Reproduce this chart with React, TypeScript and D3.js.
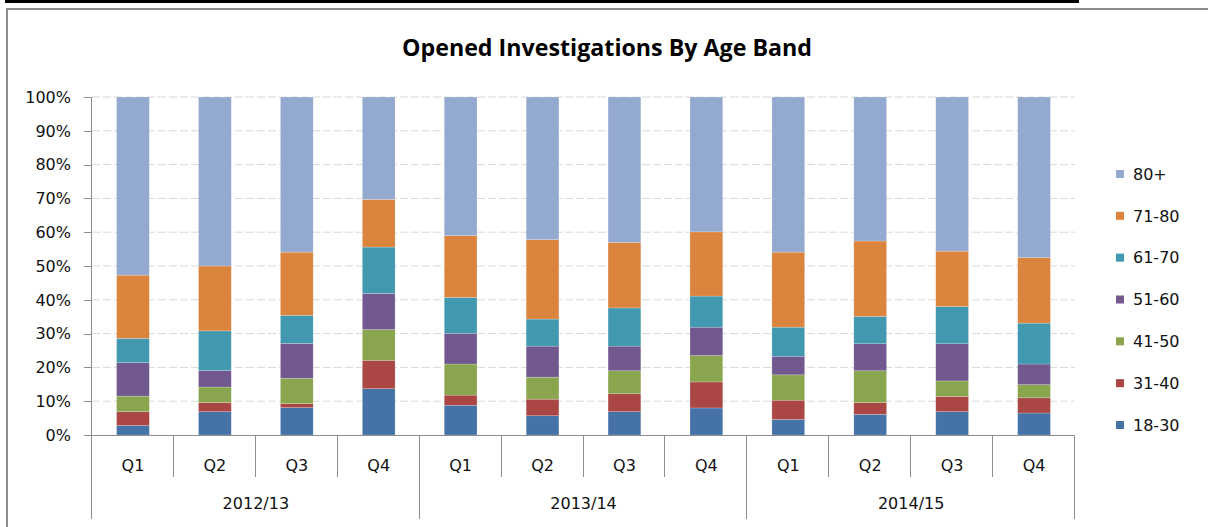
import React, { useRef, useEffect } from 'react';
import * as d3 from 'd3';

const quarters = ['Q1', 'Q2', 'Q3', 'Q4', 'Q1', 'Q2', 'Q3', 'Q4', 'Q1', 'Q2', 'Q3', 'Q4'];
const years = ['2012/13', '2013/14', '2014/15'];
const bands = ['18-30', '31-40', '41-50', '51-60', '61-70', '71-80', '80+'];

// share of opened investigations per age band (%)
const band18to30 = [2.8, 6.9, 8.1, 13.7, 8.8, 5.7, 6.9, 8.0, 4.6, 6.1, 6.9, 6.5];
const band31to40 = [4.1, 2.7, 1.2, 8.4, 3.0, 4.9, 5.3, 7.7, 5.7, 3.5, 4.5, 4.5];
const band41to50 = [4.6, 4.6, 7.5, 9.1, 9.2, 6.5, 6.8, 7.8, 7.5, 9.4, 4.6, 3.9];
const band51to60 = [9.9, 4.9, 10.3, 10.7, 9.1, 9.2, 7.3, 8.4, 5.5, 8.0, 11.0, 6.1];
const band61to70 = [7.2, 11.7, 8.3, 13.7, 10.6, 8.0, 11.3, 9.2, 8.6, 8.1, 11.0, 12.1];
const band71to80 = [18.7, 19.2, 18.7, 14.1, 18.3, 23.5, 19.4, 19.0, 22.2, 22.3, 16.4, 19.4];
const band80plus = [52.7, 50.0, 45.9, 30.3, 41.0, 42.2, 43.0, 39.9, 45.9, 42.6, 45.6, 47.5];

const yTicks = [0, 0.1, 0.2, 0.3, 0.4, 0.5, 0.6, 0.7, 0.8, 0.9, 1];

const colors = ['#4572A7', '#AA4643', '#89A54E', '#71588F', '#4198AF', '#DB843D', '#93A9CF'];

const W = 1208;
const H = 527;
const margin = { left: 92, right: 1075, top: 97, bottom: 435 };
const font = 'DejaVu Sans, sans-serif';
const textColor = '#111';

const App = () => {
  const svgRef = useRef<SVGSVGElement>(null);

  useEffect(() => {
    if (!svgRef.current) return;
    const svg = d3.select(svgRef.current);
    svg.selectAll('*').remove();

    const seriesValues = [band18to30, band31to40, band41to50, band51to60, band61to70, band71to80, band80plus];
    const rows = quarters.map((q, i) => {
      const row: any = { idx: i };
      bands.forEach((b, j) => { row[b] = seriesValues[j][i]; });
      return row;
    });
    const stacked = d3.stack().keys(bands).offset(d3.stackOffsetExpand)(rows);

    const x = d3.scaleBand<number>()
      .domain(quarters.map((_, i) => i))
      .range([margin.left, margin.right])
      .paddingInner(0.6)
      .paddingOuter(0.3);
    const step = x.step();
    const y = d3.scaleLinear().domain([0, 1]).range([margin.bottom, margin.top]);
    const color = d3.scaleOrdinal<string, string>().domain(bands).range(colors);

    // page frame
    svg.append('rect').attr('x', 5).attr('y', 0).attr('width', 1074).attr('height', 3).attr('fill', '#000');
    svg.append('path')
      .attr('d', `M7,${H} V9 H${W}`)
      .attr('fill', 'none')
      .attr('stroke', '#8c8c8c')
      .attr('stroke-width', 2);

    // title
    svg.append('text')
      .attr('x', 607)
      .attr('y', 56)
      .attr('text-anchor', 'middle')
      .attr('textLength', 410)
      .attr('lengthAdjust', 'spacingAndGlyphs')
      .style('font-family', 'Open Sans, sans-serif')
      .style('font-weight', 700)
      .style('font-size', '23px')
      .attr('fill', '#000')
      .text('Opened Investigations By Age Band');

    // gridlines
    svg.append('g')
      .selectAll('line')
      .data(yTicks.slice(1))
      .enter()
      .append('line')
      .attr('x1', margin.left)
      .attr('x2', margin.right)
      .attr('y1', d => y(d))
      .attr('y2', d => y(d))
      .attr('stroke', '#d9d9d9')
      .attr('stroke-dasharray', '8,3');

    // bars
    svg.append('g')
      .selectAll('g')
      .data(stacked)
      .enter()
      .append('g')
      .attr('fill', d => color(d.key))
      .selectAll('rect')
      .data(d => d)
      .enter()
      .append('rect')
      .attr('x', d => x(d.data.idx)!)
      .attr('width', x.bandwidth())
      .attr('y', d => y(d[1]))
      .attr('height', d => y(d[0]) - y(d[1]))
      .attr('stroke', '#ffffff')
      .attr('stroke-opacity', 0.35)
      .attr('stroke-width', 0.6);

    // y axis
    const axisColor = '#8c8c8c';
    svg.append('line')
      .attr('x1', margin.left - 0.5).attr('x2', margin.left - 0.5)
      .attr('y1', margin.top).attr('y2', 519)
      .attr('stroke', axisColor);
    const yt = svg.append('g');
    yt.selectAll('line')
      .data(yTicks)
      .enter()
      .append('line')
      .attr('x1', margin.left - 8).attr('x2', margin.left)
      .attr('y1', d => Math.round(y(d)) + 0.5).attr('y2', d => Math.round(y(d)) + 0.5)
      .attr('stroke', axisColor);
    yt.selectAll('text')
      .data(yTicks)
      .enter()
      .append('text')
      .attr('x', 71)
      .attr('y', d => y(d))
      .attr('dy', '0.36em')
      .attr('text-anchor', 'end')
      .style('font-family', font)
      .style('font-size', '16px')
      .attr('fill', textColor)
      .text(d => d3.format('.0%')(d));

    // x axis
    svg.append('line')
      .attr('x1', margin.left).attr('x2', margin.right)
      .attr('y1', margin.bottom + 0.5).attr('y2', margin.bottom + 0.5)
      .attr('stroke', axisColor);
    const xt = svg.append('g');
    xt.selectAll('line')
      .data(quarters.map((_, i) => i + 1))
      .enter()
      .append('line')
      .attr('x1', d => Math.round(margin.left + (d * step)) - 0.5)
      .attr('x2', d => Math.round(margin.left + (d * step)) - 0.5)
      .attr('y1', margin.bottom)
      .attr('y2', d => (d % 4 === 0 ? 519 : 477))
      .attr('stroke', axisColor);
    xt.selectAll('text')
      .data(quarters)
      .enter()
      .append('text')
      .attr('x', (_, i) => x(i)! + x.bandwidth() / 2)
      .attr('y', 465)
      .attr('dy', '0.36em')
      .attr('text-anchor', 'middle')
      .style('font-family', font)
      .style('font-size', '16px')
      .attr('fill', textColor)
      .text(d => d);
    svg.append('g')
      .selectAll('text')
      .data(years)
      .enter()
      .append('text')
      .attr('x', (_, i) => margin.left + (i * 4 + 2) * step)
      .attr('y', 503)
      .attr('dy', '0.36em')
      .attr('text-anchor', 'middle')
      .style('font-family', font)
      .style('font-size', '16px')
      .attr('fill', textColor)
      .text(d => d);

    // legend, top entry is 80+
    const ly = d3.scalePoint<string>().domain(bands.slice().reverse()).range([174, 425]);
    const legend = svg.append('g')
      .selectAll('g')
      .data(bands)
      .enter()
      .append('g')
      .attr('transform', d => `translate(1116,${ly(d)})`);
    legend.append('rect')
      .attr('x', 0).attr('y', -4)
      .attr('width', 8).attr('height', 8)
      .attr('fill', d => color(d));
    legend.append('text')
      .attr('x', 17)
      .attr('dy', '0.36em')
      .style('font-family', font)
      .style('font-size', '16px')
      .attr('fill', textColor)
      .text(d => d);
  }, []);

  return (
    <svg
      ref={svgRef}
      width={W}
      height={H}
      style={{ position: 'absolute', left: 0, top: 0, background: '#fff' }}
    />
  );
};

export default App;
